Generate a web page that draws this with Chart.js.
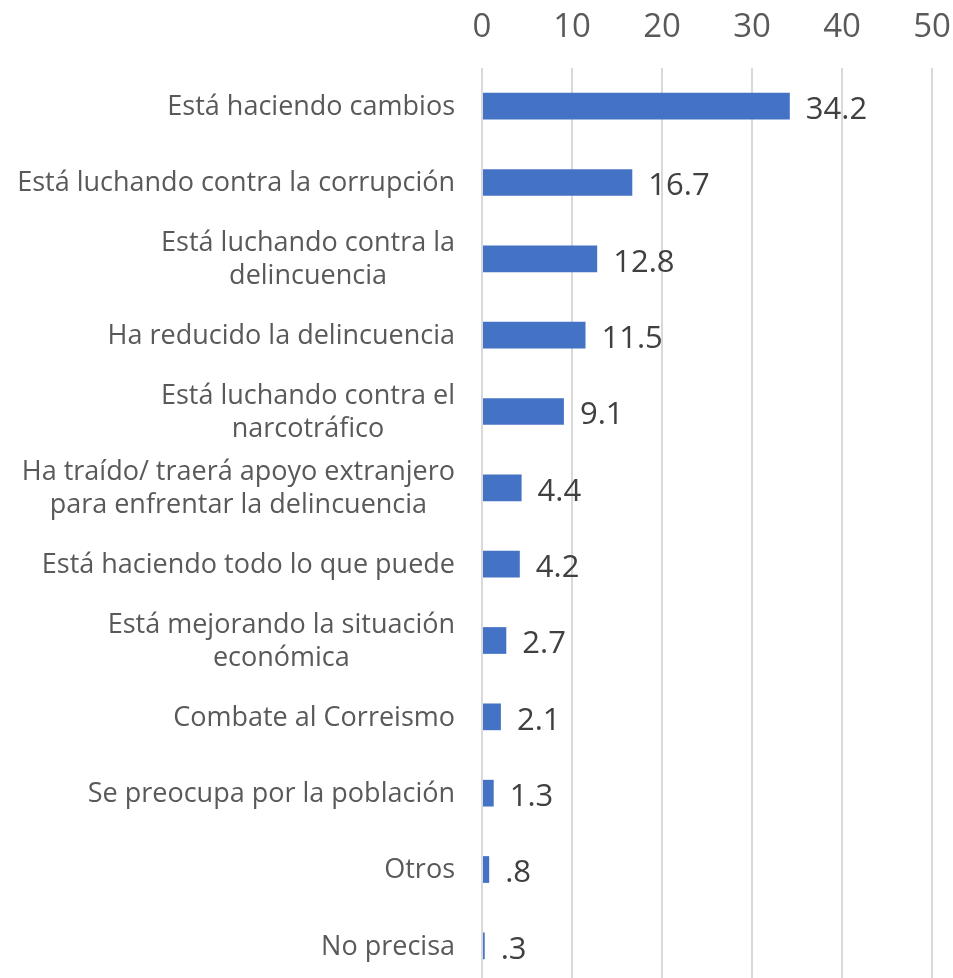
<!DOCTYPE html>
<html>
<head>
<meta charset="utf-8">
<script src="https://cdn.jsdelivr.net/npm/chart.js@4"></script>
<style>
  html, body { margin: 0; padding: 0; background: #fff; overflow: hidden; }
  #wrap { width: 953px; height: 984px; }
</style>
</head>
<body>
<div id="wrap"><canvas id="chart"></canvas></div>
<script>
const categories = [
  ['Está haciendo cambios'],
  ['Está luchando contra la corrupción'],
  ['Está luchando contra la', 'delincuencia'],
  ['Ha reducido la delincuencia'],
  ['Está luchando contra el', 'narcotráfico'],
  ['Ha traído/ traerá apoyo extranjero', 'para enfrentar la delincuencia'],
  ['Está haciendo todo lo que puede'],
  ['Está mejorando la situación', 'económica'],
  ['Combate al Correismo'],
  ['Se preocupa por la población'],
  ['Otros'],
  ['No precisa']
];
const values = [34.2, 16.7, 12.8, 11.5, 9.1, 4.4, 4.2, 2.7, 2.1, 1.3, 0.8, 0.3];
const xTicks = [0, 10, 20, 30, 40, 50];

const FONT = '"Open Sans", sans-serif';

function fmt(v) {
  let s = v.toFixed(1);
  if (s.startsWith('0')) s = s.slice(1);
  return s;
}

// category labels: block right-aligned, lines centred inside the block (Excel style)
const labelPlugin = {
  id: 'labels',
  afterDraw(chart) {
    const ctx = chart.ctx;
    const y = chart.scales.y;
    const x = chart.scales.x;
    ctx.save();
    ctx.font = '27px ' + FONT;
    ctx.fillStyle = '#595959';
    ctx.textBaseline = 'middle';
    ctx.textAlign = 'center';
    const right = chart.chartArea.left - 27;
    const lh = 33;
    categories.forEach((lines, i) => {
      const cy = y.getPixelForValue(i) + 1;
      const w = Math.max(...lines.map(l => ctx.measureText(l).width));
      const cx = right - w / 2;
      lines.forEach((l, j) => {
        ctx.fillText(l, cx, cy + (j - (lines.length - 1) / 2) * lh);
      });
    });
    // value labels
    ctx.font = '31px ' + FONT;
    ctx.fillStyle = '#404040';
    ctx.textAlign = 'left';
    values.forEach((v, i) => {
      ctx.fillText(fmt(v), x.getPixelForValue(v) + 16, y.getPixelForValue(i) + 4);
    });
    ctx.restore();
  }
};

new Chart(document.getElementById('chart'), {
  type: 'bar',
  data: {
    labels: categories.map(c => c.join(' ')),
    datasets: [{
      data: values,
      backgroundColor: '#4472C4',
      barPercentage: 0.35,
      categoryPercentage: 1
    }]
  },
  options: {
    indexAxis: 'y',
    responsive: true,
    maintainAspectRatio: false,
    animation: false,
    layout: { padding: { top: 0, left: 0, bottom: 0, right: 21 } },
    plugins: { legend: { display: false }, tooltip: { enabled: false } },
    scales: {
      x: {
        position: 'top',
        min: 0,
        max: 50,
        afterBuildTicks(s) { s.ticks = xTicks.map(v => ({ value: v })); },
        afterFit(s) {
          s.height = 68;
          s.paddingLeft = 0;
          s.paddingRight = 0;
        },
        ticks: { color: '#595959', font: { family: FONT, size: 33 }, padding: 21 },
        grid: { color: '#d9d9d9', lineWidth: 2, drawTicks: false },
        border: { display: false }
      },
      y: {
        afterFit(s) { s.width = 482; },
        ticks: { display: false },
        grid: { display: false },
        border: { display: false }
      }
    }
  },
  plugins: [labelPlugin]
});
</script>
</body>
</html>
